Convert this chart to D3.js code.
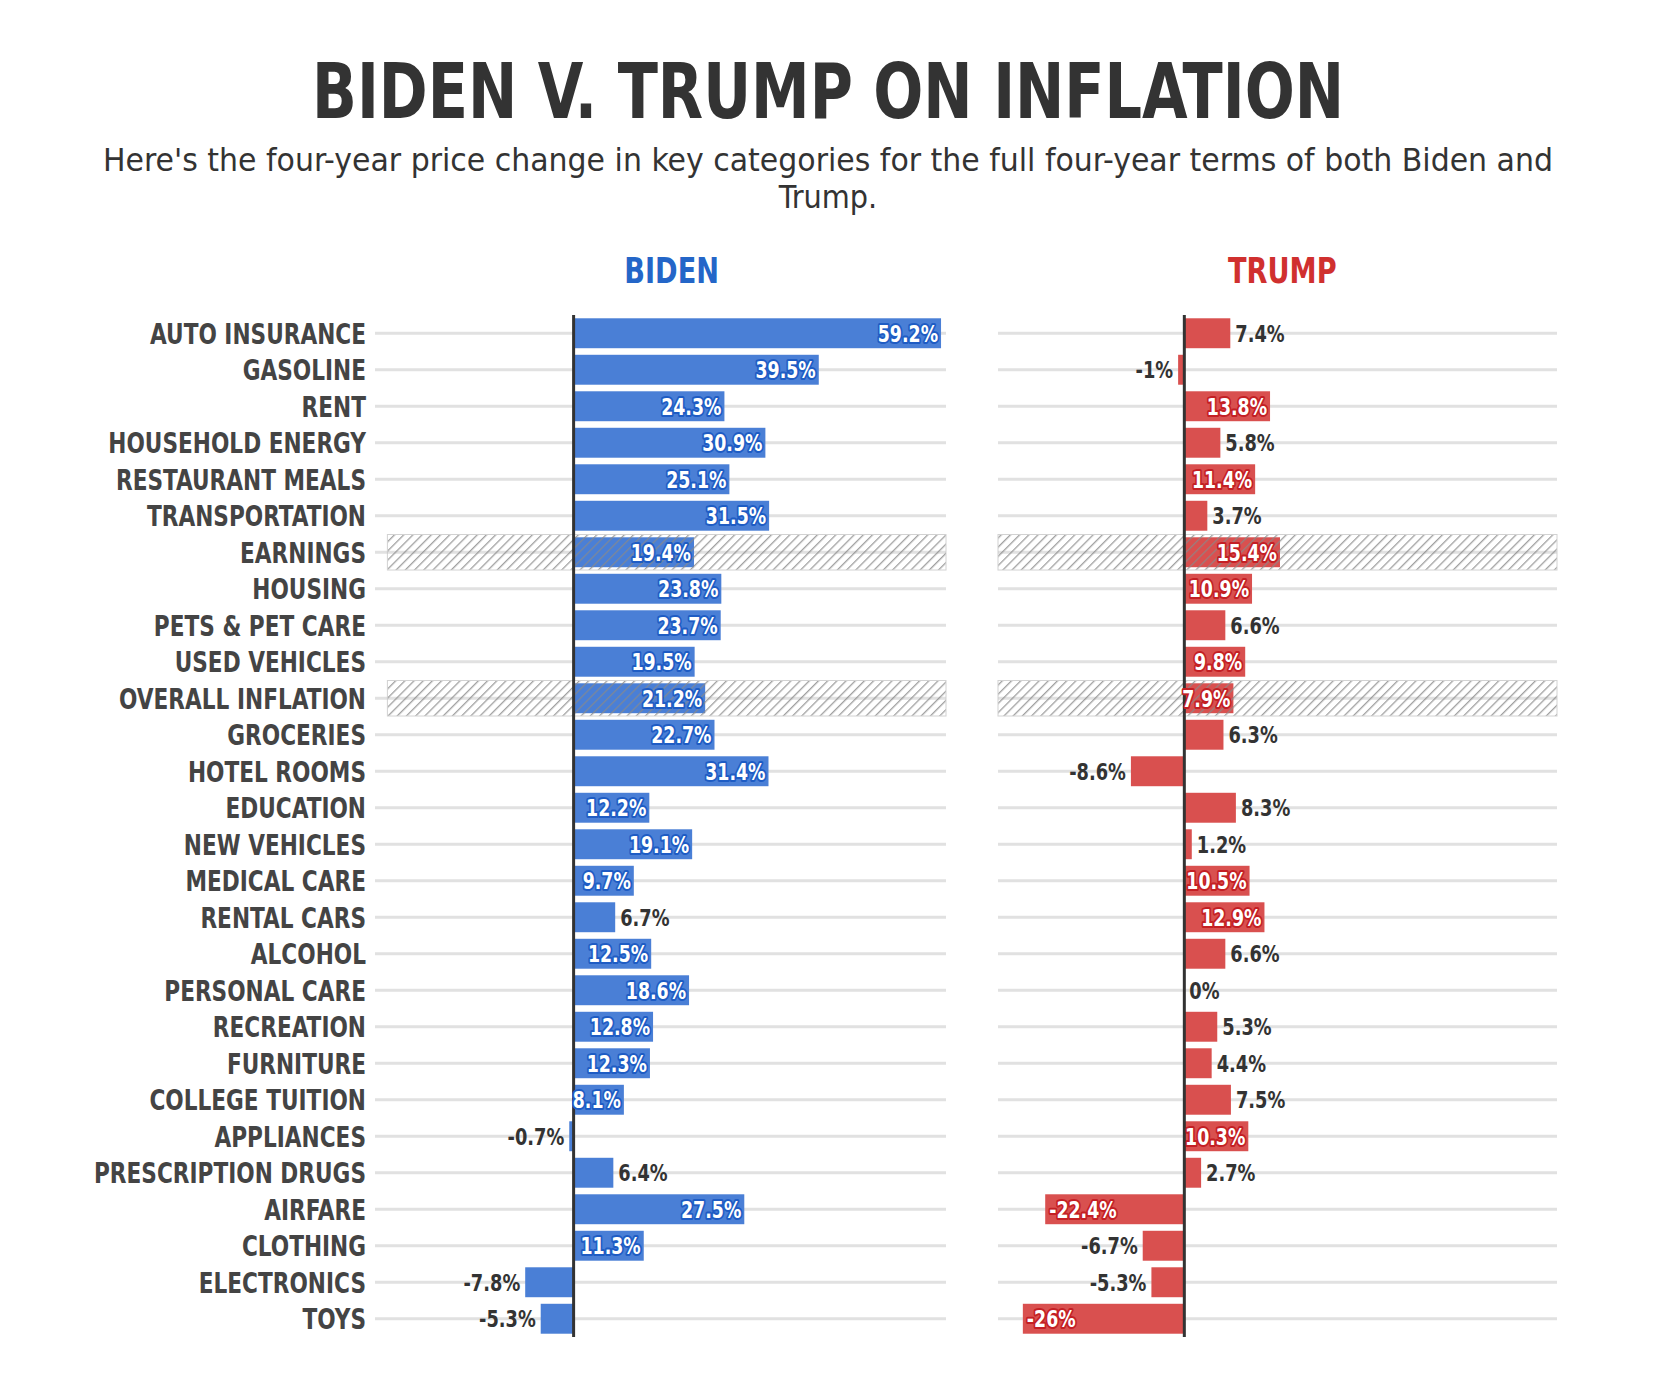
<!DOCTYPE html>
<html>
<head>
<meta charset="utf-8">
<script src="https://cdn.jsdelivr.net/npm/d3@7"></script>
<style>
  body { margin: 0; background: #fff; }
  svg text { font-family: "Liberation Sans Narrow", "DejaVu Sans Condensed", "Arial Narrow", sans-serif; font-stretch: condensed; }
</style>
</head>
<body>
<div class="canvaChart"></div>
<script>
// chart data
const categories = [
  "AUTO INSURANCE", "GASOLINE", "RENT", "HOUSEHOLD ENERGY", "RESTAURANT MEALS",
  "TRANSPORTATION", "EARNINGS", "HOUSING", "PETS & PET CARE", "USED VEHICLES",
  "OVERALL INFLATION", "GROCERIES", "HOTEL ROOMS", "EDUCATION", "NEW VEHICLES",
  "MEDICAL CARE", "RENTAL CARS", "ALCOHOL", "PERSONAL CARE", "RECREATION",
  "FURNITURE", "COLLEGE TUITION", "APPLIANCES", "PRESCRIPTION DRUGS", "AIRFARE",
  "CLOTHING", "ELECTRONICS", "TOYS"
];
const bidenValues = [59.2, 39.5, 24.3, 30.9, 25.1, 31.5, 19.4, 23.8, 23.7, 19.5, 21.2, 22.7, 31.4, 12.2,
  19.1, 9.7, 6.7, 12.5, 18.6, 12.8, 12.3, 8.1, -0.7, 6.4, 27.5, 11.3, -7.8, -5.3];
const trumpValues = [7.4, -1, 13.8, 5.8, 11.4, 3.7, 15.4, 10.9, 6.6, 9.8, 7.9, 6.3, -8.6, 8.3,
  1.2, 10.5, 12.9, 6.6, 0, 5.3, 4.4, 7.5, 10.3, 2.7, -22.4, -6.7, -5.3, -26];
const highlightRows = ["EARNINGS", "OVERALL INFLATION"];
const panelNames = ["BIDEN", "TRUMP"];

const W = 1653, H = 1387;
const svg = d3.select(".canvaChart").append("svg")
  .attr("width", W)
  .attr("height", H);

// squeeze text horizontally, the original uses a narrow face
const narrow = (sel, x, y, sx) => sel.attr("transform", `translate(${x},${y}) scale(${sx},1)`);

const defs = svg.append("defs");
const pat = defs.append("pattern")
  .attr("id", "hatch")
  .attr("patternUnits", "userSpaceOnUse")
  .attr("width", 6.5).attr("height", 6.5)
  .attr("patternTransform", "rotate(45)");
pat.append("line")
  .attr("x1", 0).attr("y1", 0).attr("x2", 0).attr("y2", 6.5)
  .attr("stroke", "#8a8a8a").attr("stroke-width", 2.6);

// title + subtitle
svg.append("text")
  .attr("x", 828).attr("y", 118)
  .attr("text-anchor", "middle")
  .attr("font-size", 76).attr("font-weight", 700)
  .attr("fill", "#333")
  .attr("textLength", 1032).attr("lengthAdjust", "spacingAndGlyphs")
  .text("BIDEN V. TRUMP ON INFLATION");

svg.append("text")
  .attr("x", 828).attr("y", 171)
  .attr("text-anchor", "middle")
  .attr("font-size", 32)
  .attr("fill", "#333")
  .attr("textLength", 1450).attr("lengthAdjust", "spacingAndGlyphs")
  .text("Here's the four-year price change in key categories for the full four-year terms of both Biden and");
svg.append("text")
  .attr("x", 828).attr("y", 208)
  .attr("text-anchor", "middle")
  .attr("font-size", 32)
  .attr("fill", "#333")
  .text("Trump.");

const y = d3.scaleBand().domain(categories).range([315, 1337]);
const barH = y.bandwidth() * 0.82;

// row labels
svg.append("g").selectAll("text")
  .data(categories)
  .enter().append("text")
  .each(function (d) { narrow(d3.select(this), 366, y(d) + y.bandwidth() / 2, 0.86); })
  .attr("dy", "0.37em")
  .attr("text-anchor", "end")
  .attr("font-size", 28).attr("font-weight", 700)
  .attr("fill", "#444")
  .text(d => d);

const panels = [
  { name: panelNames[0], values: bidenValues, x: d3.scaleLinear().domain([-32, 60]).range([375, 946]),
    fill: "#4a7fd6", dark: "#1e5cc4", head: "#2466c8", cut: 8 },
  { name: panelNames[1], values: trumpValues, x: d3.scaleLinear().domain([-30, 60]).range([998, 1557]),
    fill: "#d9504f", dark: "#c41f24", head: "#d0302f", cut: 9 }
];

panels.forEach(p => {
  const g = svg.append("g");
  const x = p.x;
  const rows = categories.map((c, i) => ({ cat: c, v: p.values[i], hi: highlightRows.includes(c) }));

  narrow(g.append("text"), x(0) + 98, 283, 0.84)
    .attr("text-anchor", "middle")
    .attr("font-size", 36).attr("font-weight", 700)
    .attr("fill", p.head)
    .text(p.name);

  // grid lines
  g.selectAll(".grid").data(rows).enter().append("line")
    .attr("x1", x.range()[0]).attr("x2", x.range()[1])
    .attr("y1", d => y(d.cat) + y.bandwidth() / 2)
    .attr("y2", d => y(d.cat) + y.bandwidth() / 2)
    .attr("stroke", "#e1e1e1").attr("stroke-width", 3);

  g.selectAll(".bar").data(rows).enter().append("rect")
    .attr("x", d => x(Math.min(0, d.v)))
    .attr("width", d => Math.abs(x(d.v) - x(0)))
    .attr("y", d => y(d.cat) + (y.bandwidth() - barH) / 2)
    .attr("height", barH)
    .attr("fill", p.fill);

  // hatched highlight rows
  g.selectAll(".hatch").data(rows.filter(d => d.hi)).enter().append("rect")
    .attr("x", x(-30)).attr("width", x(60) - x(-30))
    .attr("y", d => y(d.cat) + 0.5)
    .attr("height", y.bandwidth() - 1)
    .attr("fill", "url(#hatch)")
    .attr("opacity", 0.8)
    .attr("stroke", "#c8c8c8").attr("stroke-width", 1);

  // zero axis
  g.append("line")
    .attr("x1", x(0)).attr("x2", x(0))
    .attr("y1", y.range()[0]).attr("y2", y.range()[1])
    .attr("stroke", "#333").attr("stroke-width", 3);

  g.selectAll(".val").data(rows).enter().append("text")
    .each(function (d) {
      const inside = Math.abs(d.v) >= p.cut || d.hi;
      const pos = d.v >= 0;
      const t = d3.select(this)
        .attr("dy", "0.37em")
        .attr("font-size", 23).attr("font-weight", 700)
        .text(`${d.v}%`);
      const cy = y(d.cat) + y.bandwidth() / 2;
      if (inside) {
        narrow(t, pos ? x(d.v) - 3 : x(d.v) + 4, cy, 0.84)
          .attr("text-anchor", pos ? "end" : "start")
          .attr("fill", "#fff")
          .attr("stroke", p.dark).attr("stroke-width", 4)
          .attr("paint-order", "stroke")
          .attr("stroke-linejoin", "round");
      } else {
        narrow(t, pos ? x(d.v) + 5 : x(d.v) - 5, cy, 0.86)
          .attr("text-anchor", pos ? "start" : "end")
          .attr("fill", "#333");
      }
    });
});
</script>
</body>
</html>
